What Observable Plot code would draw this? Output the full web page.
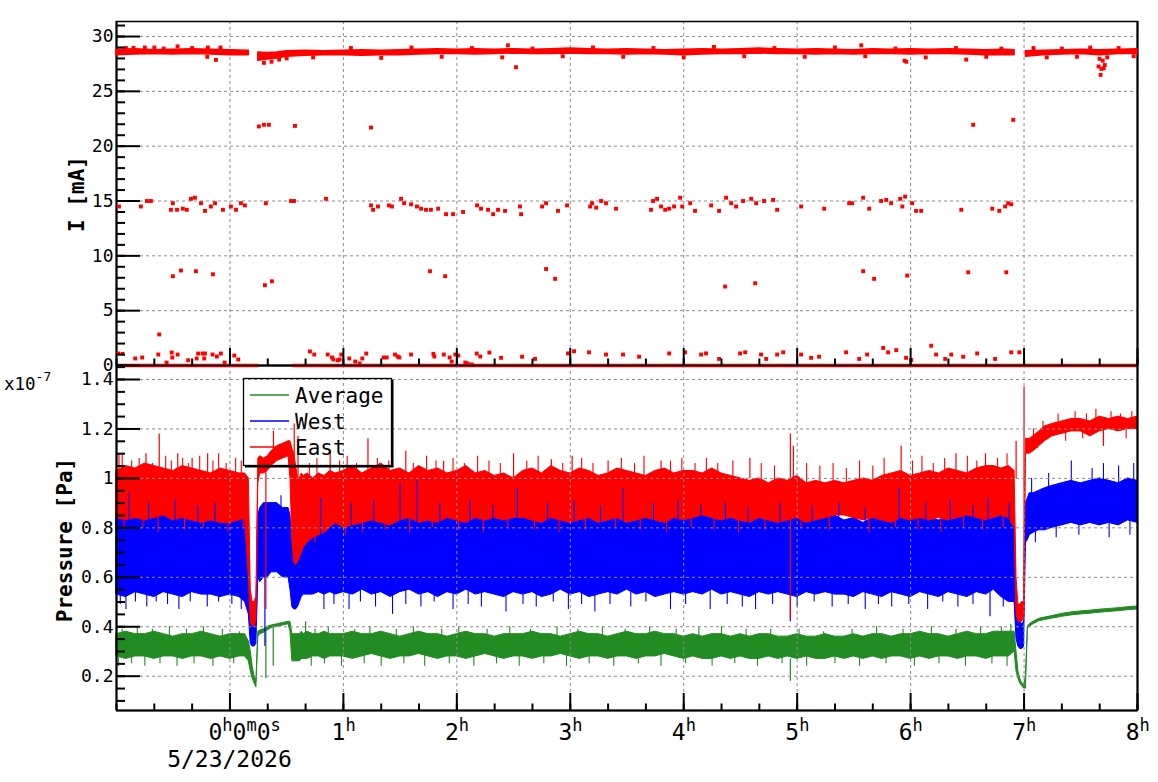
<!DOCTYPE html>
<html><head><meta charset="utf-8">
<script src="https://cdn.jsdelivr.net/npm/d3@7"></script>
<script src="https://cdn.jsdelivr.net/npm/@observablehq/plot@0.6"></script>
<style>
body{margin:0;background:#fff;}
#wrap{position:relative;width:1158px;height:782px;font-family:"DejaVu Sans Mono",monospace;background:#fff;}
#wrap svg{position:absolute;left:0;top:0;overflow:visible;}
</style></head><body><div id="wrap"></div>
<script>
// ---------- axis / tick data ----------
const hourTicks = [0,60,120,180,240,300,360,420,480];            // minutes
const minorXTicks = [-60,-40,-20,0,20,40,60,80,100,120,140,160,180,200,220,240,260,280,300,320,340,360,380,400,420,440,460,480];
const xLabelHours = [1,2,3,4,5,6,7,8];
const iMajor = [0,5,10,15,20,25,30];
const iMinor = [0,1,2,3,4,5,6,7,8,9,10,11,12,13,14,15,16,17,18,19,20,21,22,23,24,25,26,27,28,29,30,31];
const pMajor = [0.2,0.4,0.6,0.8,1.0,1.2,1.4];
const pMajorLabels = ["0.2","0.4","0.6","0.8","1","1.2","1.4"];
const pMinor = [0.1,0.15,0.2,0.25,0.3,0.35,0.4,0.45,0.5,0.55,0.6,0.65,0.7,0.75,0.8,0.85,0.9,0.95,1.0,1.05,1.1,1.15,1.2,1.25,1.3,1.35,1.4,1.45];

// ---------- current I [mA] ----------
const curT  = [-60,-50,-40,-30,-20,-10,0,10,12,15,20,25,30,40,50,60,70,80,90,100,110,120,130,140,150,160,170,180,190,200,210,220,230,240,250,260,270,280,290,300,310,320,330,340,350,360,370,380,390,400,410,415,418,421,430,440,450,460,470,480];
const curHi = [28.8,28.85,28.75,28.8,28.85,28.8,28.75,28.7,null,28.55,28.5,28.55,28.65,
  28.7,28.65,28.7,28.75,28.7,28.75,28.8,28.85,28.8,28.85,28.8,28.85,28.8,28.85,28.9,28.85,28.8,28.85,28.8,28.75,28.8,28.85,28.8,28.85,28.9,28.85,28.8,28.85,28.8,28.75,28.85,28.8,28.85,28.8,28.85,28.8,28.75,28.8,
  28.75,null,28.65,28.7,28.75,28.8,28.75,28.8,28.85];
const curLo = [28.3,28.35,28.4,28.35,28.4,28.35,28.3,28.3,null,27.8,27.9,28.0,28.15,
  28.25,28.3,28.3,28.25,28.3,28.3,28.35,28.4,28.4,28.35,28.4,28.45,28.4,28.4,28.45,28.4,28.4,28.35,28.4,28.35,28.3,28.35,28.4,28.4,28.45,28.4,28.4,28.35,28.4,28.35,28.4,28.4,28.35,28.4,28.4,28.35,28.3,28.3,
  28.3,null,28.15,28.3,28.35,28.4,28.3,28.4,28.4];
const zeroSegs = [[-60,15.3],[33.3,480]];
const curOutT = [-58.7,-47.1,-43.9,-41.8,-31.2,-30.2,-28.0,-24.9,-22.8,-20.6,-18.5,-15.3,-13.2,-10.1,-7.9,-3.7,0.5,3.2,5.8,7.9,19.0,32.3,33.9,50.8,74.6,75.7,78.3,84.1,85.7,90.5,92.1,95.8,98.9,101.1,103.7,106.3,110.1,114.3,118.0,123.3,130.7,132.8,136.5,139.2,141.8,145.5,153.4,154.0,165.1,167.2,173.5,178.3,190.5,191.5,193.7,196.3,198.9,204.2,222.7,223.8,225.9,228.0,230.2,232.3,234.9,238.1,239.2,243.4,246.0,254.5,258.7,262.4,265.1,267.7,271.4,275.7,278.3,282.5,287.3,289.4,302.1,314.3,327.5,329.1,334.9,338.1,344.4,347.1,349.7,354.5,355.6,357.1,360.8,362.9,365.6,386.8,403.2,406.9,410.0,411.6,413.2,
  15.3,18.0,20.6,34.4,74.6,393.1,414.3,
  -30.2,-25.9,-18.0,-9.0,18.5,22.2,105.8,113.8,167.2,172.0,261.9,277.8,334.9,340.7,358.2,390.5,410.6,-37.4,
  -59.1,-56.8,-50.1,-46.4,-37.9,-33.5,-30.8,-30.5,-27.7,-22.1,-17.6,-16.8,-14.4,-13.6,-13.2,-9.2,-6.9,-4.8,-2.8,2.3,4.4,42.3,44.6,51.7,54.0,54.7,57.0,58.0,58.9,63.1,66.3,68.6,70.0,72.1,81.3,82.9,87.3,88.7,89.6,95.8,107.6,108.1,113.1,116.2,117.3,119.2,120.8,124.5,125.8,128.0,130.5,132.4,137.2,143.4,154.5,161.4,178.8,182.0,189.9,198.9,207.9,216.4,232.3,240.7,249.2,251.8,258.7,269.8,272.5,280.9,283.6,289.4,292.6,302.1,307.4,311.6,325.9,332.8,337.0,345.5,348.1,352.4,357.6,360.3,370.9,373.5,378.3,381.5,387.8,395.2,404.7,413.2,417.5,
  459.4,460.5,460.9,462.1,462.7,461.6,459.9,356.8,357.7,389.4,-7.4,-27.7,-51.0,-11.7,151.3,147.0,333.9,
  -55,-45,-35,-20,-5,18,22,26,30,64,96,128,160,192,224,256,288,320,352,384,408,425,440,455,470,-40,-12,44,80,112,144,176,208,240,272,304,336,368,400,432,448,464,478];
const curOutV = [14.5,14.5,15.0,15.0,14.2,14.8,14.2,14.3,14.2,15.2,15.3,14.8,14.1,14.5,14.8,14.2,14.5,14.2,14.8,14.6,14.8,15.0,15.0,15.2,14.6,14.2,14.5,14.6,14.5,15.2,14.8,14.7,14.5,14.3,14.2,14.2,14.3,13.8,13.8,14.0,14.6,14.3,14.2,13.8,14.2,14.1,14.5,13.8,14.5,14.8,14.1,14.6,14.5,14.8,14.4,15.0,14.8,14.3,14.2,15.0,15.2,14.5,14.2,14.3,14.5,15.3,14.5,14.8,14.1,14.6,14.1,15.3,14.8,14.5,15.0,15.2,14.8,15.0,15.1,14.2,14.5,14.3,14.8,14.8,15.3,14.3,15.0,15.1,14.8,15.2,14.5,15.4,14.8,14.1,14.1,14.2,14.3,14.1,14.5,14.8,14.7,
  21.8,21.95,21.95,21.85,21.7,21.95,22.4,
  8.14,8.66,8.6,8.32,7.32,7.68,8.6,8.14,8.8,7.9,7.2,7.5,8.6,7.9,8.2,8.5,8.5,2.83,
  1.09,1.06,0.64,0.73,1.0,0.27,1.18,0.73,1.0,0.48,0.64,1.09,1.09,0.64,1.09,1.0,0.82,1.09,0.27,0.91,0.55,1.28,1.0,1.0,0.73,0.55,0.48,0.55,1.0,0.64,0.36,0.18,0.64,1.09,0.73,0.73,1.0,0.82,0.73,1.0,1.06,0.82,1.0,0.73,0.36,1.0,0.91,0.27,0.18,0.09,1.09,0.82,1.18,0.7,0.8,0.6,1.1,1.3,1.2,1.0,1.0,0.8,1.1,1.2,1.0,1.1,0.6,1.1,1.2,1.0,0.6,1.0,1.2,1.0,0.7,0.8,1.2,0.6,1.0,1.6,1.2,1.4,0.7,0.5,1.8,1.0,0.6,1.0,0.8,1.1,0.6,1.2,1.2,
  27.27,26.5,27.05,27.1,27.4,27.8,27.97,27.8,27.7,27.9,27.87,29.1,28.97,29.0,27.2,29.2,29.2,
  28.95,29.0,28.9,28.95,29.0,27.6,27.7,27.9,28.0,28.95,29.0,28.95,28.9,29.0,28.95,29.05,28.95,29.0,28.9,28.95,28.9,28.95,28.9,29.0,28.95,29.0,
  28.15,28.1,28.05,28.15,28.1,28.2,28.15,28.1,28.2,28.15,28.2,28.1,28.15,28.1,28.15,28.1,28.2,28.15];

// ---------- pressure (x1e-7 Pa), band envelopes ----------
const tMin = [-60,-55,-50,-45,-40,-35,-30,-25,-20,-15,-10,-5,0,5,
  8,10,11,12,13,14,15,16,18,20,22,25,28,31,32,33,34,35,36,37,38,39,41,44,47,50,53,56,
  60,65,70,75,80,85,90,95,100,105,110,115,120,125,130,135,140,145,150,155,160,165,170,175,180,185,190,195,200,205,210,215,220,225,230,235,240,245,250,255,260,265,270,275,280,285,290,295,300,305,310,315,320,325,330,335,340,345,350,355,360,365,370,375,380,385,390,395,400,
  404,408,412,415,416,417,418,419,420,421,422,423,425,428,431,435,
  440,445,450,455,460,465,470,475,480];
const eastHi = [1.03,1.05,1.04,1.06,1.05,1.04,1.03,1.05,1.04,1.03,1.02,1.04,1.03,1.02,
  1.02,1.0,0.55,0.5,0.5,0.52,1.08,1.09,1.08,1.09,1.11,1.13,1.14,1.15,1.15,1.12,1.1,1.05,1.0,1.0,1.02,1.01,1.02,1.0,1.02,1.01,1.03,1.02,
  1.03,1.05,1.02,1.04,1.06,1.03,1.04,1.02,1.05,1.03,1.04,1.02,1.03,1.05,1.02,1.03,1.01,1.02,1.00,
  1.03,1.04,1.02,1.05,1.03,1.02,1.04,1.03,1.01,1.02,1.04,1.03,1.02,1.01,1.03,1.04,1.02,1.03,
  1.03,1.02,1.04,1.02,1.01,1.0,0.99,1.0,0.98,1.0,0.99,1.01,0.98,0.99,0.98,0.99,
  0.98,0.99,1.0,0.99,1.01,1.02,1.03,1.01,1.02,1.03,1.02,1.04,1.03,1.02,1.04,1.05,
  1.05,1.04,1.05,1.03,0.6,0.49,0.49,0.5,0.5,1.16,1.16,1.16,1.17,1.19,1.21,1.22,
  1.23,1.24,1.24,1.23,1.25,1.24,1.25,1.24,1.25];
const eastLo = [0.84,0.83,0.84,0.83,0.84,0.85,0.83,0.84,0.83,0.82,0.83,0.82,0.82,0.83,
  0.84,0.6,0.42,0.4,0.4,0.42,0.98,1.02,1.02,1.03,1.05,1.07,1.08,1.09,1.0,0.75,0.66,0.65,0.66,0.68,0.7,0.72,0.74,0.76,0.77,0.78,0.8,0.82,
  0.8,0.81,0.82,0.83,0.82,0.81,0.83,0.84,0.82,0.83,0.82,0.84,0.83,0.82,0.84,0.83,0.84,0.83,0.84,
  0.84,0.83,0.82,0.84,0.83,0.82,0.83,0.84,0.82,0.83,0.84,0.82,0.83,0.84,0.83,0.82,0.84,0.83,
  0.84,0.85,0.84,0.83,0.84,0.83,0.82,0.84,0.83,0.82,0.83,0.84,0.82,0.83,0.84,0.85,
  0.85,0.84,0.83,0.84,0.83,0.82,0.84,0.83,0.84,0.83,0.84,0.83,0.84,0.85,0.84,0.83,
  0.84,0.85,0.84,0.8,0.45,0.42,0.42,0.42,0.44,1.1,1.1,1.1,1.11,1.13,1.15,1.17,
  1.18,1.19,1.19,1.17,1.19,1.2,1.19,1.2,1.2];
const westHi = [0.86,0.87,0.85,0.88,0.86,0.87,0.85,0.86,0.88,0.86,0.85,0.87,0.86,0.86,
  0.86,0.8,0.45,0.42,0.42,0.45,0.85,0.88,0.9,0.9,0.9,0.9,0.88,0.88,0.85,0.75,0.72,0.72,0.74,0.78,0.8,0.84,0.85,0.85,0.86,0.85,0.86,0.86,
  0.85,0.87,0.86,0.88,0.85,0.86,0.87,0.85,0.86,0.88,0.86,0.85,0.87,0.86,0.85,0.87,0.86,0.85,0.86,
  0.86,0.87,0.85,0.86,0.88,0.86,0.85,0.87,0.86,0.85,0.86,0.87,0.86,0.85,0.87,0.86,0.88,0.86,
  0.85,0.86,0.85,0.84,0.85,0.83,0.84,0.85,0.83,0.84,0.83,0.85,0.84,0.83,0.84,0.85,
  0.83,0.84,0.82,0.84,0.83,0.85,0.84,0.83,0.85,0.84,0.83,0.85,0.84,0.86,0.85,0.84,
  0.88,0.86,0.86,0.84,0.5,0.42,0.42,0.41,0.42,0.9,0.92,0.94,0.94,0.95,0.96,0.97,
  0.98,0.99,0.98,0.99,1.0,0.99,0.98,1.0,0.99];
const westLo = [0.53,0.52,0.54,0.53,0.52,0.54,0.53,0.52,0.54,0.53,0.53,0.52,0.53,0.52,
  0.5,0.45,0.33,0.32,0.32,0.33,0.6,0.58,0.6,0.6,0.62,0.62,0.6,0.6,0.55,0.48,0.47,0.47,0.48,0.5,0.52,0.53,0.53,0.53,0.54,0.53,0.54,0.53,
  0.54,0.53,0.55,0.53,0.54,0.52,0.54,0.55,0.53,0.54,0.52,0.54,0.53,0.55,0.53,0.54,0.53,0.52,0.54,
  0.53,0.54,0.52,0.53,0.55,0.53,0.54,0.52,0.53,0.54,0.53,0.55,0.53,0.54,0.52,0.53,0.54,0.53,
  0.54,0.53,0.55,0.53,0.54,0.53,0.52,0.54,0.53,0.54,0.53,0.52,0.54,0.53,0.54,0.53,
  0.53,0.52,0.54,0.53,0.52,0.54,0.53,0.52,0.54,0.53,0.52,0.54,0.53,0.52,0.54,0.53,
  0.55,0.52,0.5,0.5,0.35,0.32,0.31,0.31,0.32,0.74,0.75,0.77,0.78,0.79,0.79,0.8,
  0.81,0.82,0.81,0.82,0.81,0.82,0.81,0.83,0.82];
const avgHi = [0.37,0.38,0.37,0.37,0.38,0.37,0.36,0.37,0.37,0.38,0.37,0.36,0.37,0.37,
  0.37,0.34,0.3,0.24,0.2,0.18,0.38,0.385,0.39,0.4,0.405,0.41,0.415,0.42,0.42,0.37,0.37,0.37,0.37,0.37,0.38,0.37,0.38,0.37,0.37,0.38,0.37,0.37,
  0.37,0.38,0.37,0.37,0.38,0.37,0.36,0.37,0.38,0.37,0.37,0.36,0.37,0.38,0.37,0.37,0.36,0.37,0.37,
  0.37,0.38,0.37,0.37,0.36,0.37,0.38,0.37,0.37,0.36,0.37,0.38,0.37,0.37,0.38,0.37,0.37,0.36,
  0.37,0.36,0.37,0.37,0.36,0.37,0.36,0.37,0.37,0.36,0.36,0.37,0.36,0.36,0.37,0.36,
  0.36,0.37,0.36,0.37,0.37,0.36,0.37,0.37,0.38,0.37,0.37,0.36,0.37,0.38,0.37,0.37,
  0.38,0.38,0.38,0.38,0.3,0.22,0.19,0.17,0.165,0.2,0.4,0.41,0.42,0.432,0.437,0.443,
  0.452,0.458,0.462,0.465,0.469,0.472,0.475,0.479,0.482];
const avgLo = [0.28,0.27,0.28,0.28,0.27,0.28,0.28,0.27,0.28,0.28,0.27,0.28,0.27,0.28,
  0.28,0.26,0.22,0.19,0.17,0.155,0.36,0.37,0.375,0.385,0.395,0.4,0.405,0.41,0.38,0.26,0.26,0.26,0.26,0.26,0.27,0.27,0.27,0.28,0.28,0.27,0.28,0.28,
  0.28,0.27,0.28,0.29,0.28,0.27,0.28,0.28,0.29,0.28,0.27,0.28,0.28,0.27,0.28,0.29,0.28,0.27,0.28,
  0.28,0.27,0.28,0.28,0.29,0.28,0.27,0.28,0.28,0.27,0.28,0.28,0.27,0.28,0.28,0.29,0.28,0.27,
  0.28,0.27,0.27,0.28,0.27,0.28,0.27,0.27,0.28,0.27,0.28,0.27,0.28,0.27,0.27,0.28,
  0.27,0.28,0.27,0.28,0.27,0.28,0.28,0.27,0.28,0.27,0.28,0.28,0.27,0.28,0.28,0.27,
  0.28,0.28,0.28,0.3,0.22,0.19,0.17,0.16,0.15,0.15,0.39,0.4,0.41,0.422,0.427,0.433,
  0.44,0.446,0.45,0.453,0.457,0.46,0.463,0.467,0.47];

// special spikes: [minute, from, to]
const eastSpikes = [[-58.7,1.0,1.1],[-44.4,1.0,1.1],[-37.4,1.0,1.18],[-27.6,1.0,1.1],[-20,0.95,1.08],[-11.8,1.0,1.1],
  [19,1.05,0.47],[23,1.1,1.19],[34,1.0,1.22],[36,1.0,1.17],[53,1.0,1.11],[73,1.0,1.16],[93,1.0,1.11],[113,1.0,1.07],[150,1.0,1.1],[170,1.0,1.075],[181,1.0,1.09],[200,1.0,1.07],[228,1.0,1.07],[275,1.0,1.08],[296.4,0.43,1.18],[298,0.95,1.13],[355,1.0,1.13],[384,1.0,1.1],[399.6,1.0,1.1],[415.8,1.0,1.15],[420,0.45,1.37],[462,1.19,1.13]];
const westSpikes = [[18.5,0.6,0.32],[36.5,0.7,0.99],[296.4,0.55,0.42],[402,0.55,0.44]];
const avgSpikes = [[19,0.38,0.19],[22.9,0.4,0.24],[40,0.3,0.42],[296.4,0.27,0.18]];

// edge noise spikes: [minute, value]
const eastUp = [[-57,1.1],[-52,1.07],[-48,1.08],[-41,1.06],[-34,1.09],[-31,1.07],[-25,1.08],[-22,1.06],[-16,1.09],[-9,1.07],[-6,1.1],[-2,1.06],[3,1.08],[6,1.07],
  [42,1.06],[46,1.08],[58,1.07],[62,1.09],[67,1.06],[78,1.08],[84,1.07],[97,1.06],[104,1.09],[109,1.07],[118,1.08],[124,1.06],[131,1.09],[137,1.07],[143,1.06],[157,1.07],[163,1.09],[176,1.06],[186,1.08],[192,1.06],[207,1.08],[214,1.06],[219,1.09],[233,1.07],[239,1.08],[246,1.06],[252,1.08],[258,1.06],[266,1.07],[281,1.06],[288,1.05],[305,1.06],[312,1.05],[319,1.06],[326,1.04],[333,1.07],[340,1.05],[346,1.08],[361,1.07],[366,1.09],[372,1.06],[378,1.08],[390,1.09],[395,1.07],[406,1.08],[411,1.1],
  [425,1.2],[430,1.23],[438,1.26],[447,1.27],[453,1.26],[458,1.28],[466,1.27],[471,1.26],[477,1.27]];
const eastDown = [[-56,0.79],[-46,0.8],[-38,0.78],[-24,0.79],[-14,0.8],[-1,0.78],[7,0.8],[45,0.74],[61,0.77],[70,0.78],[82,0.79],[95,0.78],[107,0.8],[121,0.79],[134,0.78],[147,0.8],[161,0.79],[174,0.78],[188,0.79],[204,0.8],[217,0.79],[231,0.78],[244,0.8],[256,0.79],[269,0.78],[283,0.79],[302,0.8],[317,0.79],[338,0.78],[352,0.8],[364,0.79],[376,0.78],[388,0.8],[398,0.79],[409,0.8],
  [427,1.12],[442,1.15],[451,1.16],[462,1.13],[474,1.16]];
const westUp = [[-53.5,0.94],[-43,0.9],[-29,0.91],[-17,0.89],[-8,0.9],[27,0.93],[48,0.92],[64,0.9],[76,0.91],[90,0.98],[99,0.99],[111,0.9],[127,0.91],[139,0.89],[152,0.96],[168,0.9],[182,0.91],[196,0.89],[208,0.96],[224,0.9],[237,0.91],[249,0.89],[262,0.9],[274,0.88],[291,0.9],[308,0.89],[322,0.9],[336,0.88],[354,0.96],[368,0.9],[381,0.91],[393,0.89],[401,0.92],[412,0.9],
  [424,1.0],[433,1.02],[445,1.07],[456,1.04],[462,1.06],[470,1.05],[478,1.06]];
const westDown = [[-58,0.49],[-55,0.47],[-50,0.5],[-44,0.48],[-39,0.5],[-33,0.49],[-27,0.47],[-21,0.5],[-12,0.48],[-6,0.5],[1,0.49],[6,0.47],[49.7,0.47],[55,0.49],[63,0.47],[69,0.5],[77,0.48],[86,0.45],[93,0.49],[101,0.48],[108,0.5],[118,0.47],[126,0.49],[133,0.48],[146,0.46],[155,0.49],[162,0.48],[171,0.5],[179,0.47],[186,0.49],[193,0.46],[201,0.49],[212,0.48],[220,0.5],[233,0.47],[241,0.49],[254,0.47],[263,0.49],[271,0.48],[278,0.47],[287,0.49],[300,0.48],[309,0.5],[318.5,0.48],[327,0.49],[336,0.47],[343,0.49],[350,0.48],[359,0.49],[369,0.47],[377,0.5],[385,0.48],[393,0.49],[409,0.48],
  [426,0.74],[437,0.76],[449,0.77],[465,0.76],[476,0.77]];
const avgUp = [[-57,0.39],[-49,0.4],[-41,0.39],[-32,0.4],[-23,0.39],[-14,0.4],[-4,0.39],[5,0.38],[45,0.39],[52,0.4],[66,0.39],[74,0.4],[88,0.39],[97,0.4],[112,0.39],[121,0.4],[136,0.39],[148,0.4],[159,0.39],[173,0.4],[184,0.39],[197,0.4],[209,0.39],[222,0.4],[236,0.39],[248,0.4],[260,0.4],[273,0.39],[286,0.39],[301,0.39],[314,0.38],[329,0.39],[342,0.4],[356,0.39],[371,0.4],[384,0.39],[397,0.4],[408,0.4],[413,0.41]];
const avgDown = [[-59,0.24],[-52,0.25],[-45,0.24],[-37,0.25],[-28,0.24],[-19,0.25],[-9,0.24],[2,0.25],[43,0.24],[50,0.25],[59,0.24],[71,0.25],[80,0.24],[92,0.25],[103,0.24],[116,0.25],[129,0.24],[141,0.25],[153,0.24],[166,0.25],[178,0.24],[190,0.25],[203,0.24],[216,0.25],[228,0.24],[241,0.25],[255,0.24],[267,0.25],[279,0.24],[292,0.25],[305,0.24],[320,0.25],[333,0.24],[347,0.25],[362,0.24],[375,0.25],[389,0.24],[403,0.25],[411,0.24]];

// ---------- drawing ----------
const RED = "#ff0000", BLUE = "#0000ff", GREEN = "#228b22";
const FONT = "DejaVu Sans Mono";
const W = 1158;
const xDomain = [-60, 480];
const grid = {stroke: "#8c8c8c", strokeDasharray: "3,3", strokeWidth: 1};

// band value at time t (from the envelope arrays above)
function bandAt(arr, t) {
  const i = d3.bisectLeft(tMin, t);
  if (i <= 0) return arr[0];
  if (i >= tMin.length) return arr[arr.length - 1];
  const t0 = tMin[i - 1], t1 = tMin[i];
  return arr[i - 1] + (arr[i] - arr[i - 1]) * (t - t0) / (t1 - t0);
}
const edge = (list, arr, inward) => list.map(([t, v]) => ({t, v, base: bandAt(arr, t) + inward}));
// west spikes poking up: start where blue is still visible (below red or at the blue top)
const westUpRows = westUp.map(([t, v]) => ({t, v, base: Math.min(bandAt(eastLo, t) - 0.03, bandAt(westHi, t) - 0.01)}));

const curRows = curT.map((t, i) => ({t, lo: curLo[i], hi: curHi[i]}));
const curOut = curOutT.map((t, i) => ({t, v: curOutV[i]}));
const pRows = tMin.map((t, i) => ({t, eLo: eastLo[i], eHi: eastHi[i], wLo: westLo[i], wHi: westHi[i], aLo: avgLo[i], aHi: avgHi[i]}));

const spikeMarks = (list, color) => Plot.ruleX(list, {x: d => d.t, y1: d => d.base, y2: d => d.v, stroke: color, strokeWidth: 1.1});
const tripleMarks = (list, color) => Plot.ruleX(list, {x: d => d[0], y1: d => d[1], y2: d => d[2], stroke: color, strokeWidth: 1.2});

const topFrameW = 1158 - 116 - 21;
const topFrameH = 372 - 21 - 7;
const topPlot = Plot.plot({
  width: W, height: 372, marginLeft: 116, marginRight: 21, marginTop: 21, marginBottom: 7,
  x: {domain: xDomain, axis: null},
  y: {domain: [0, 31.37], axis: null},
  style: {background: "transparent", overflow: "visible", fontFamily: FONT},
  marks: [
    Plot.ruleY(iMajor.slice(1), grid),
    Plot.ruleX(hourTicks, grid),
    Plot.frame({stroke: "black", strokeWidth: 1.5}),
    Plot.ruleX([-60], {stroke: "black", strokeWidth: 2}),
    Plot.ruleX([480], {stroke: "black", strokeWidth: 2}),
    Plot.ruleY([0], {stroke: "black", strokeWidth: 2}),
    Plot.ruleY(zeroSegs, {y: 0, x1: d => d[0], x2: d => d[1], stroke: RED, strokeWidth: 3.5}),
    Plot.areaY(curRows, {x: "t", y1: "lo", y2: "hi", fill: RED, stroke: RED, strokeWidth: 1.5}),
    Plot.dot(curOut, {x: "t", y: "v", symbol: "square", r: 2.2, fill: RED}),
    Plot.tickY(iMajor, {y: d => d, insetRight: topFrameW - 24, stroke: "black", strokeWidth: 2}),
    Plot.tickY(iMinor, {y: d => d, insetRight: topFrameW - 9, stroke: "black", strokeWidth: 2}),
    Plot.tickX(hourTicks, {x: d => d, insetTop: topFrameH - 17, stroke: "black", strokeWidth: 2}),
    Plot.tickX(minorXTicks, {x: d => d, insetTop: topFrameH - 6.5, stroke: "black", strokeWidth: 2}),
    Plot.text(iMajor, {y: d => d, text: d => String(d), frameAnchor: "left", textAnchor: "end", dx: -3, fontSize: 18, fontFamily: FONT, fill: "black"})
  ]
});

const botFrameW = 1158 - 116 - 21;
const botFrameH = 782 - 365 - 72;
const bottomPlot = Plot.plot({
  width: W, height: 782, marginLeft: 116, marginRight: 21, marginTop: 365, marginBottom: 72,
  x: {domain: xDomain, axis: null},
  y: {domain: [0.0613, 1.4566], axis: null},
  style: {background: "transparent", overflow: "visible", fontFamily: FONT},
  marks: [
    Plot.areaY(pRows, {x: "t", y1: "aLo", y2: "aHi", fill: GREEN, stroke: GREEN, strokeWidth: 1}),
    spikeMarks(edge(avgUp, avgHi, -0.01), GREEN),
    spikeMarks(edge(avgDown, avgLo, 0.01), GREEN),
    tripleMarks(avgSpikes, GREEN),
    Plot.areaY(pRows, {x: "t", y1: "wLo", y2: "wHi", fill: BLUE, stroke: BLUE, strokeWidth: 1}),
    spikeMarks(edge(westDown, westLo, 0.01), BLUE),
    tripleMarks(westSpikes, BLUE),
    Plot.areaY(pRows, {x: "t", y1: "eLo", y2: "eHi", fill: RED, stroke: RED, strokeWidth: 1}),
    spikeMarks(edge(eastUp, eastHi, -0.01), RED),
    spikeMarks(edge(eastDown, eastLo, 0.01), RED),
    tripleMarks(eastSpikes, RED),
    spikeMarks(westUpRows, BLUE),
    Plot.ruleY(pMajor, grid),
    Plot.ruleX(hourTicks, grid),
    Plot.tickY(pMajor, {y: d => d, insetRight: botFrameW - 24, stroke: "black", strokeWidth: 2}),
    Plot.tickY(pMinor, {y: d => d, insetRight: botFrameW - 9, stroke: "black", strokeWidth: 2}),
    Plot.tickX(hourTicks, {x: d => d, insetTop: botFrameH - 17, stroke: "black", strokeWidth: 2}),
    Plot.tickX(minorXTicks, {x: d => d, insetTop: botFrameH - 6.5, stroke: "black", strokeWidth: 2}),
    Plot.frame({stroke: "black", strokeWidth: 1.5}),
    Plot.ruleX([-60], {stroke: "black", strokeWidth: 2}),
    Plot.ruleX([480], {stroke: "black", strokeWidth: 2}),
    Plot.ruleY([0.0613], {stroke: "black", strokeWidth: 2}),
    Plot.text(pMajor, {y: d => d, text: (d, i) => pMajorLabels[i], frameAnchor: "left", textAnchor: "end", dx: -3, fontSize: 18, fontFamily: FONT, fill: "black"})
  ]
});

const wrap = document.getElementById("wrap");
wrap.append(topPlot, bottomPlot);

// ---------- annotations (labels with superscripts, legend, titles) ----------
const sx = bottomPlot.scale("x");
const svg = d3.select(bottomPlot);
const g = svg.append("g").attr("font-family", FONT).attr("fill", "black").attr("text-anchor", "start");

xLabelHours.forEach(h => {
  const px = sx.apply(h * 60);
  g.append("text").attr("x", px + 2.5).attr("y", 740).attr("text-anchor", "end").attr("font-size", 23).text(String(h));
  g.append("text").attr("x", px + 2.5).attr("y", 731).attr("text-anchor", "start").attr("font-size", 17).text("h");
});
const x0 = sx.apply(0);
const t0 = g.append("text").attr("x", x0 - 21).attr("y", 740).attr("text-anchor", "start").attr("font-size", 23);
[["0",23,0],["h",17,-9],["0",23,9],["m",17,-9],["0",23,9],["s",17,-9]].forEach(([s, fs, dy]) => {
  t0.append("tspan").attr("font-size", fs).attr("dy", dy).text(s);
});
g.append("text").attr("x", x0).attr("y", 767).attr("text-anchor", "middle").attr("font-size", 23).text("5/23/2026");

// exponent
const ex = g.append("text").attr("x", 4).attr("y", 390).attr("text-anchor", "start").attr("font-size", 17.5);
ex.append("tspan").text("x10");
ex.append("tspan").attr("font-size", 13).attr("dy", -9).text("-7");

// axis titles
g.append("text").attr("transform", "translate(77,194) rotate(-90)").attr("text-anchor", "middle").attr("dy", "0.35em")
  .attr("font-size", 21).attr("font-weight", "bold").text("I [mA]");
g.append("text").attr("transform", "translate(65,540) rotate(-90)").attr("text-anchor", "middle").attr("dy", "0.35em")
  .attr("font-size", 21).attr("font-weight", "bold").text("Pressure [Pa]");

// legend
const legendNames = ["Average", "West", "East"];
const legendColors = [GREEN, BLUE, RED];
const lg = g.append("g");
lg.append("rect").attr("x", 243.5).attr("y", 378.5).attr("width", 148).attr("height", 87).attr("fill", "none").attr("stroke", "black").attr("stroke-width", 1.3);
lg.append("line").attr("x1", 392.5).attr("x2", 392.5).attr("y1", 380).attr("y2", 467).attr("stroke", "black").attr("stroke-width", 2);
lg.append("line").attr("x1", 245).attr("x2", 393.5).attr("y1", 466.5).attr("y2", 466.5).attr("stroke", "black").attr("stroke-width", 2);
legendNames.forEach((name, i) => {
  const y = 395 + i * 26;
  lg.append("line").attr("x1", 250).attr("x2", 289).attr("y1", y).attr("y2", y).attr("stroke", legendColors[i]).attr("stroke-width", 1.3);
  lg.append("text").attr("x", 295).attr("y", y + 8).attr("text-anchor", "start").attr("font-size", 21).text(name);
});
</script>
</body></html>
